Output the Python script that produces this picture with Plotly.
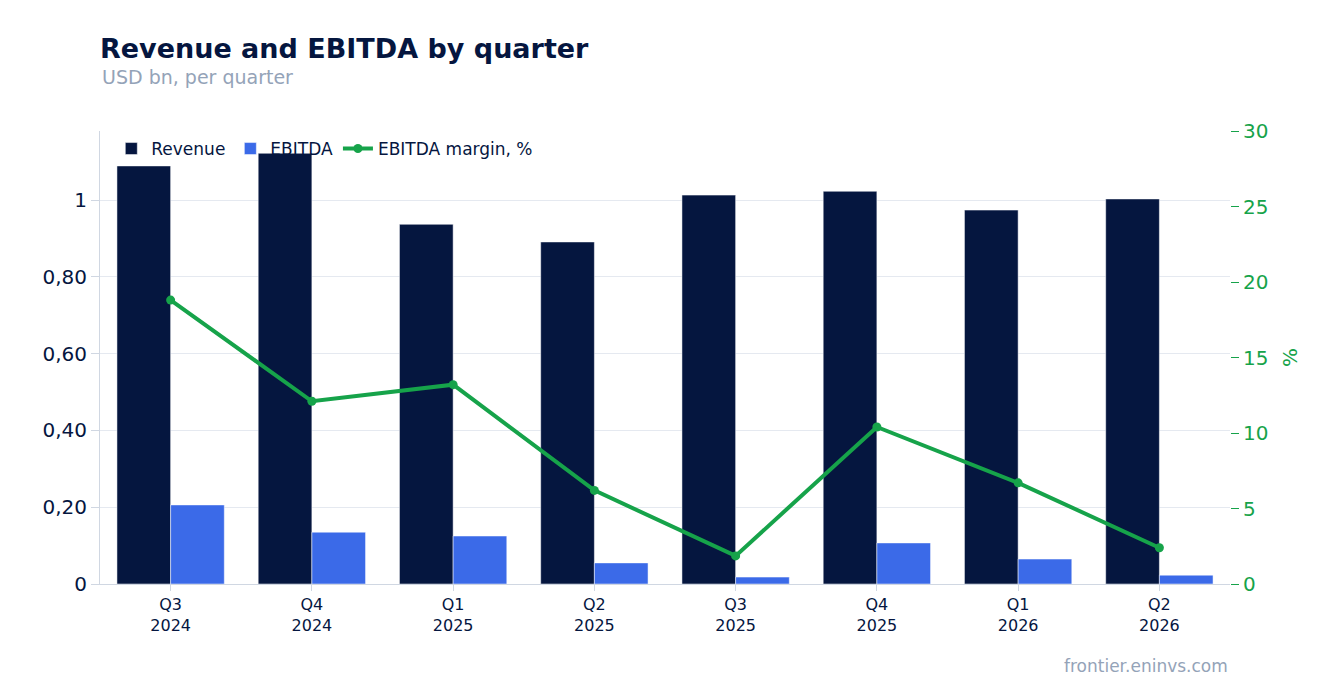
import plotly.graph_objects as go

quarters = ["Q3<br>2024", "Q4<br>2024", "Q1<br>2025", "Q2<br>2025",
            "Q3<br>2025", "Q4<br>2025", "Q1<br>2026", "Q2<br>2026"]
revenue = [1.089, 1.122, 0.937, 0.891, 1.013, 1.023, 0.974, 1.003]
ebitda = [0.206, 0.135, 0.125, 0.055, 0.018, 0.107, 0.065, 0.023]
margin = [18.8, 12.1, 13.2, 6.2, 1.86, 10.4, 6.7, 2.4]

left_ticks = [0, 0.2, 0.4, 0.6, 0.8, 1]
left_labels = ["0", "0,20", "0,40", "0,60", "0,80", "1"]

green = "#16a34a"

fig = go.Figure()
fig.add_trace(go.Bar(x=quarters, y=revenue, name="Revenue", marker_color="#05163f"))
fig.add_trace(go.Bar(x=quarters, y=ebitda, name="EBITDA", marker_color="#3b6ae8"))
fig.add_trace(go.Scatter(x=quarters, y=margin, name="EBITDA margin, %", yaxis="y2",
                         mode="lines+markers", line=dict(color=green, width=4),
                         marker=dict(size=9, color=green)))

fig.update_layout(
    width=1323, height=693,
    template="plotly_white",
    font=dict(family="DejaVu Sans", size=16, color="#05163f"),
    title=dict(text="<b>Revenue and EBITDA by quarter</b>", x=0.0695, xanchor="left",
               y=0.955, font=dict(size=27, color="#05163f")),
    margin=dict(l=92, r=101, t=123, b=117),
    barmode="group", bargap=0.24, bargroupgap=0,
    legend=dict(orientation="h", x=0.01, y=1.0, yanchor="top", font=dict(size=17),
                bgcolor="rgba(0,0,0,0)"),
    xaxis=dict(tickfont=dict(size=16), showgrid=False, ticks="outside",
               ticklen=6, tickcolor="#d0d7e2", showline=True, linecolor="#d0d7e2"),
    yaxis=dict(range=[0, 1.18], tickvals=left_ticks, ticktext=left_labels,
               tickfont=dict(size=20), gridcolor="#e5e9f0", showline=True,
               linecolor="#d0d7e2", ticks="outside", ticklen=8, tickcolor="#d0d7e2",
               zeroline=False),
    yaxis2=dict(overlaying="y", side="right", range=[0, 30], dtick=5,
                tickfont=dict(size=20, color=green), showgrid=False,
                ticks="outside", ticklen=8, tickcolor=green,
                title=dict(text="%", font=dict(size=20, color=green)), zeroline=False),
    annotations=[
        dict(text="USD bn, per quarter", xref="paper", yref="paper", x=0, y=1.1,
             xanchor="left", yanchor="bottom", showarrow=False,
             font=dict(size=19, color="#94a3b8"), yshift=-4),
        dict(text="frontier.eninvs.com", xref="paper", yref="paper", x=1, y=-0.155,
             xanchor="right", yanchor="top", showarrow=False,
             font=dict(size=17, color="#94a3b8")),
    ],
)

fig.write_html("out.html")
